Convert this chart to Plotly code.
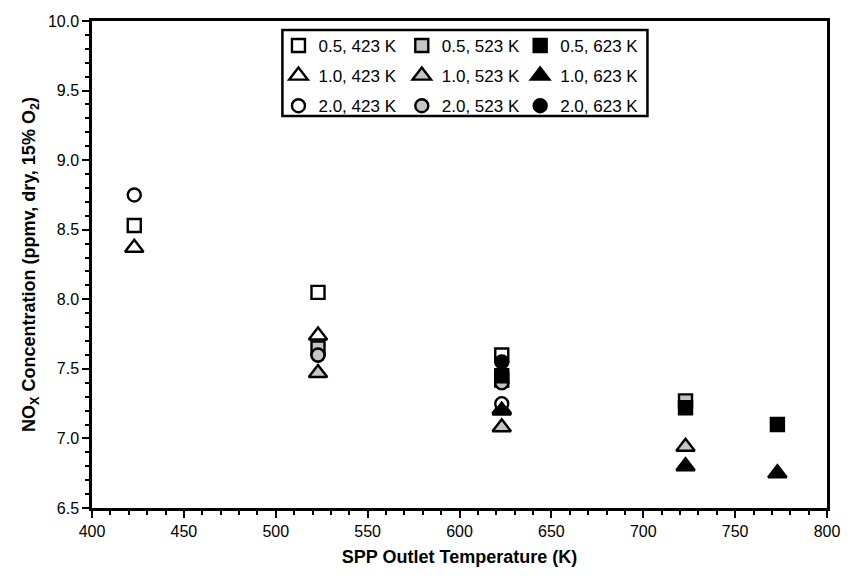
import plotly.graph_objects as go

# ---- data ----
x_423 = [423, 523, 623]
x_523 = [523, 623, 723]
x_623 = [623, 723, 773]

sq_423 = [8.53, 8.05, 7.60]
tri_423 = [8.37, 7.74, 7.21]
circ_423 = [8.75, 7.60, 7.25]

sq_523 = [7.65, 7.42, 7.27]
tri_523 = [7.47, 7.08, 6.94]
circ_523 = [7.60, 7.40, None]

sq_623 = [7.45, 7.22, 7.10]
tri_623 = [7.20, 6.80, 6.75]
circ_623 = [7.55, None, None]

labels = {
    "sq_423": "0.5, 423 K", "tri_423": "1.0, 423 K", "circ_423": "2.0, 423 K",
    "sq_523": "0.5, 523 K", "tri_523": "1.0, 523 K", "circ_523": "2.0, 523 K",
    "sq_623": "0.5, 623 K", "tri_623": "1.0, 623 K", "circ_623": "2.0, 623 K",
}

FONT = "Liberation Sans, Arial, sans-serif"
fills = {"423": "white", "523": "#c4c4c4", "623": "black"}
legend_ref = {"423": "legend", "523": "legend2", "623": "legend3"}

series = [
    ("423", x_423, [("sq_423", sq_423, "square", 13), ("tri_423", tri_423, "triangle-up", 16), ("circ_423", circ_423, "circle", 13)]),
    ("523", x_523, [("sq_523", sq_523, "square", 13), ("tri_523", tri_523, "triangle-up", 16), ("circ_523", circ_523, "circle", 13)]),
    ("623", x_623, [("sq_623", sq_623, "square", 13), ("tri_623", tri_623, "triangle-up", 16), ("circ_623", circ_623, "circle", 13)]),
]

fig = go.Figure()
for temp, xs, items in series:
    for key, ys, sym, size in items:
        fig.add_trace(go.Scatter(
            x=xs, y=ys, mode="markers", name=labels[key],
            legend=legend_ref[temp], legendgroup=key,
            marker=dict(symbol=sym, size=size, color=fills[temp],
                        line=dict(color="black", width=2.4)),
        ))

# plot area: x 92..837, y 21..513
W, H = 852, 577
L, R, T, B = 92, 15, 21, 64
pw, ph = W - L - R, H - T - B

def px(xpix):
    return (xpix - L) / pw

def py(ypix):
    return (H - B - ypix) / ph

leg_common = dict(bgcolor="rgba(0,0,0,0)", borderwidth=0, orientation="v",
                  xanchor="left", yanchor="top", tracegroupgap=5,
                  font=dict(family=FONT, size=17, color="black"),
                  itemwidth=30)

fig.update_layout(
    width=W, height=H,
    margin=dict(l=L, r=R, t=T, b=B),
    paper_bgcolor="white", plot_bgcolor="white",
    showlegend=True,
    legend=dict(x=px(281), y=py(28), **leg_common),
    legend2=dict(x=px(406), y=py(28), **leg_common),
    legend3=dict(x=px(526), y=py(28), **leg_common),
    font=dict(family=FONT, color="black"),
    shapes=[dict(type="rect", xref="paper", yref="paper",
                 x0=px(285), x1=px(655), y0=py(117), y1=py(30),
                 line=dict(color="black", width=2.5), fillcolor="rgba(0,0,0,0)")],
)

fig.update_xaxes(
    range=[400, 800], dtick=50, tick0=400,
    showline=True, linecolor="black", linewidth=2.5, mirror=True,
    ticks="outside", ticklen=7, tickwidth=2, tickcolor="black",
    minor=dict(dtick=10, ticks="outside", ticklen=4, tickwidth=1.5, tickcolor="black"),
    showgrid=False, zeroline=False,
    tickfont=dict(family=FONT, size=16, color="black"),
    title=dict(text="<b>SPP Outlet Temperature (K)</b>", font=dict(family=FONT, size=18, color="black"), standoff=12),
)
fig.update_yaxes(
    range=[6.5, 10.0], dtick=0.5, tick0=6.5, tickformat=".1f",
    showline=True, linecolor="black", linewidth=2.5, mirror=True,
    ticks="outside", ticklen=7, tickwidth=2, tickcolor="black",
    minor=dict(dtick=0.1, ticks="outside", ticklen=4, tickwidth=1.5, tickcolor="black"),
    showgrid=False, zeroline=False,
    tickfont=dict(family=FONT, size=16, color="black"),
    title=dict(text="<b>NO<sub>X</sub> Concentration (ppmv, dry, 15% O<sub>2</sub>)</b>",
               font=dict(family=FONT, size=18, color="black"), standoff=8),
)

fig.write_html("out.html")
